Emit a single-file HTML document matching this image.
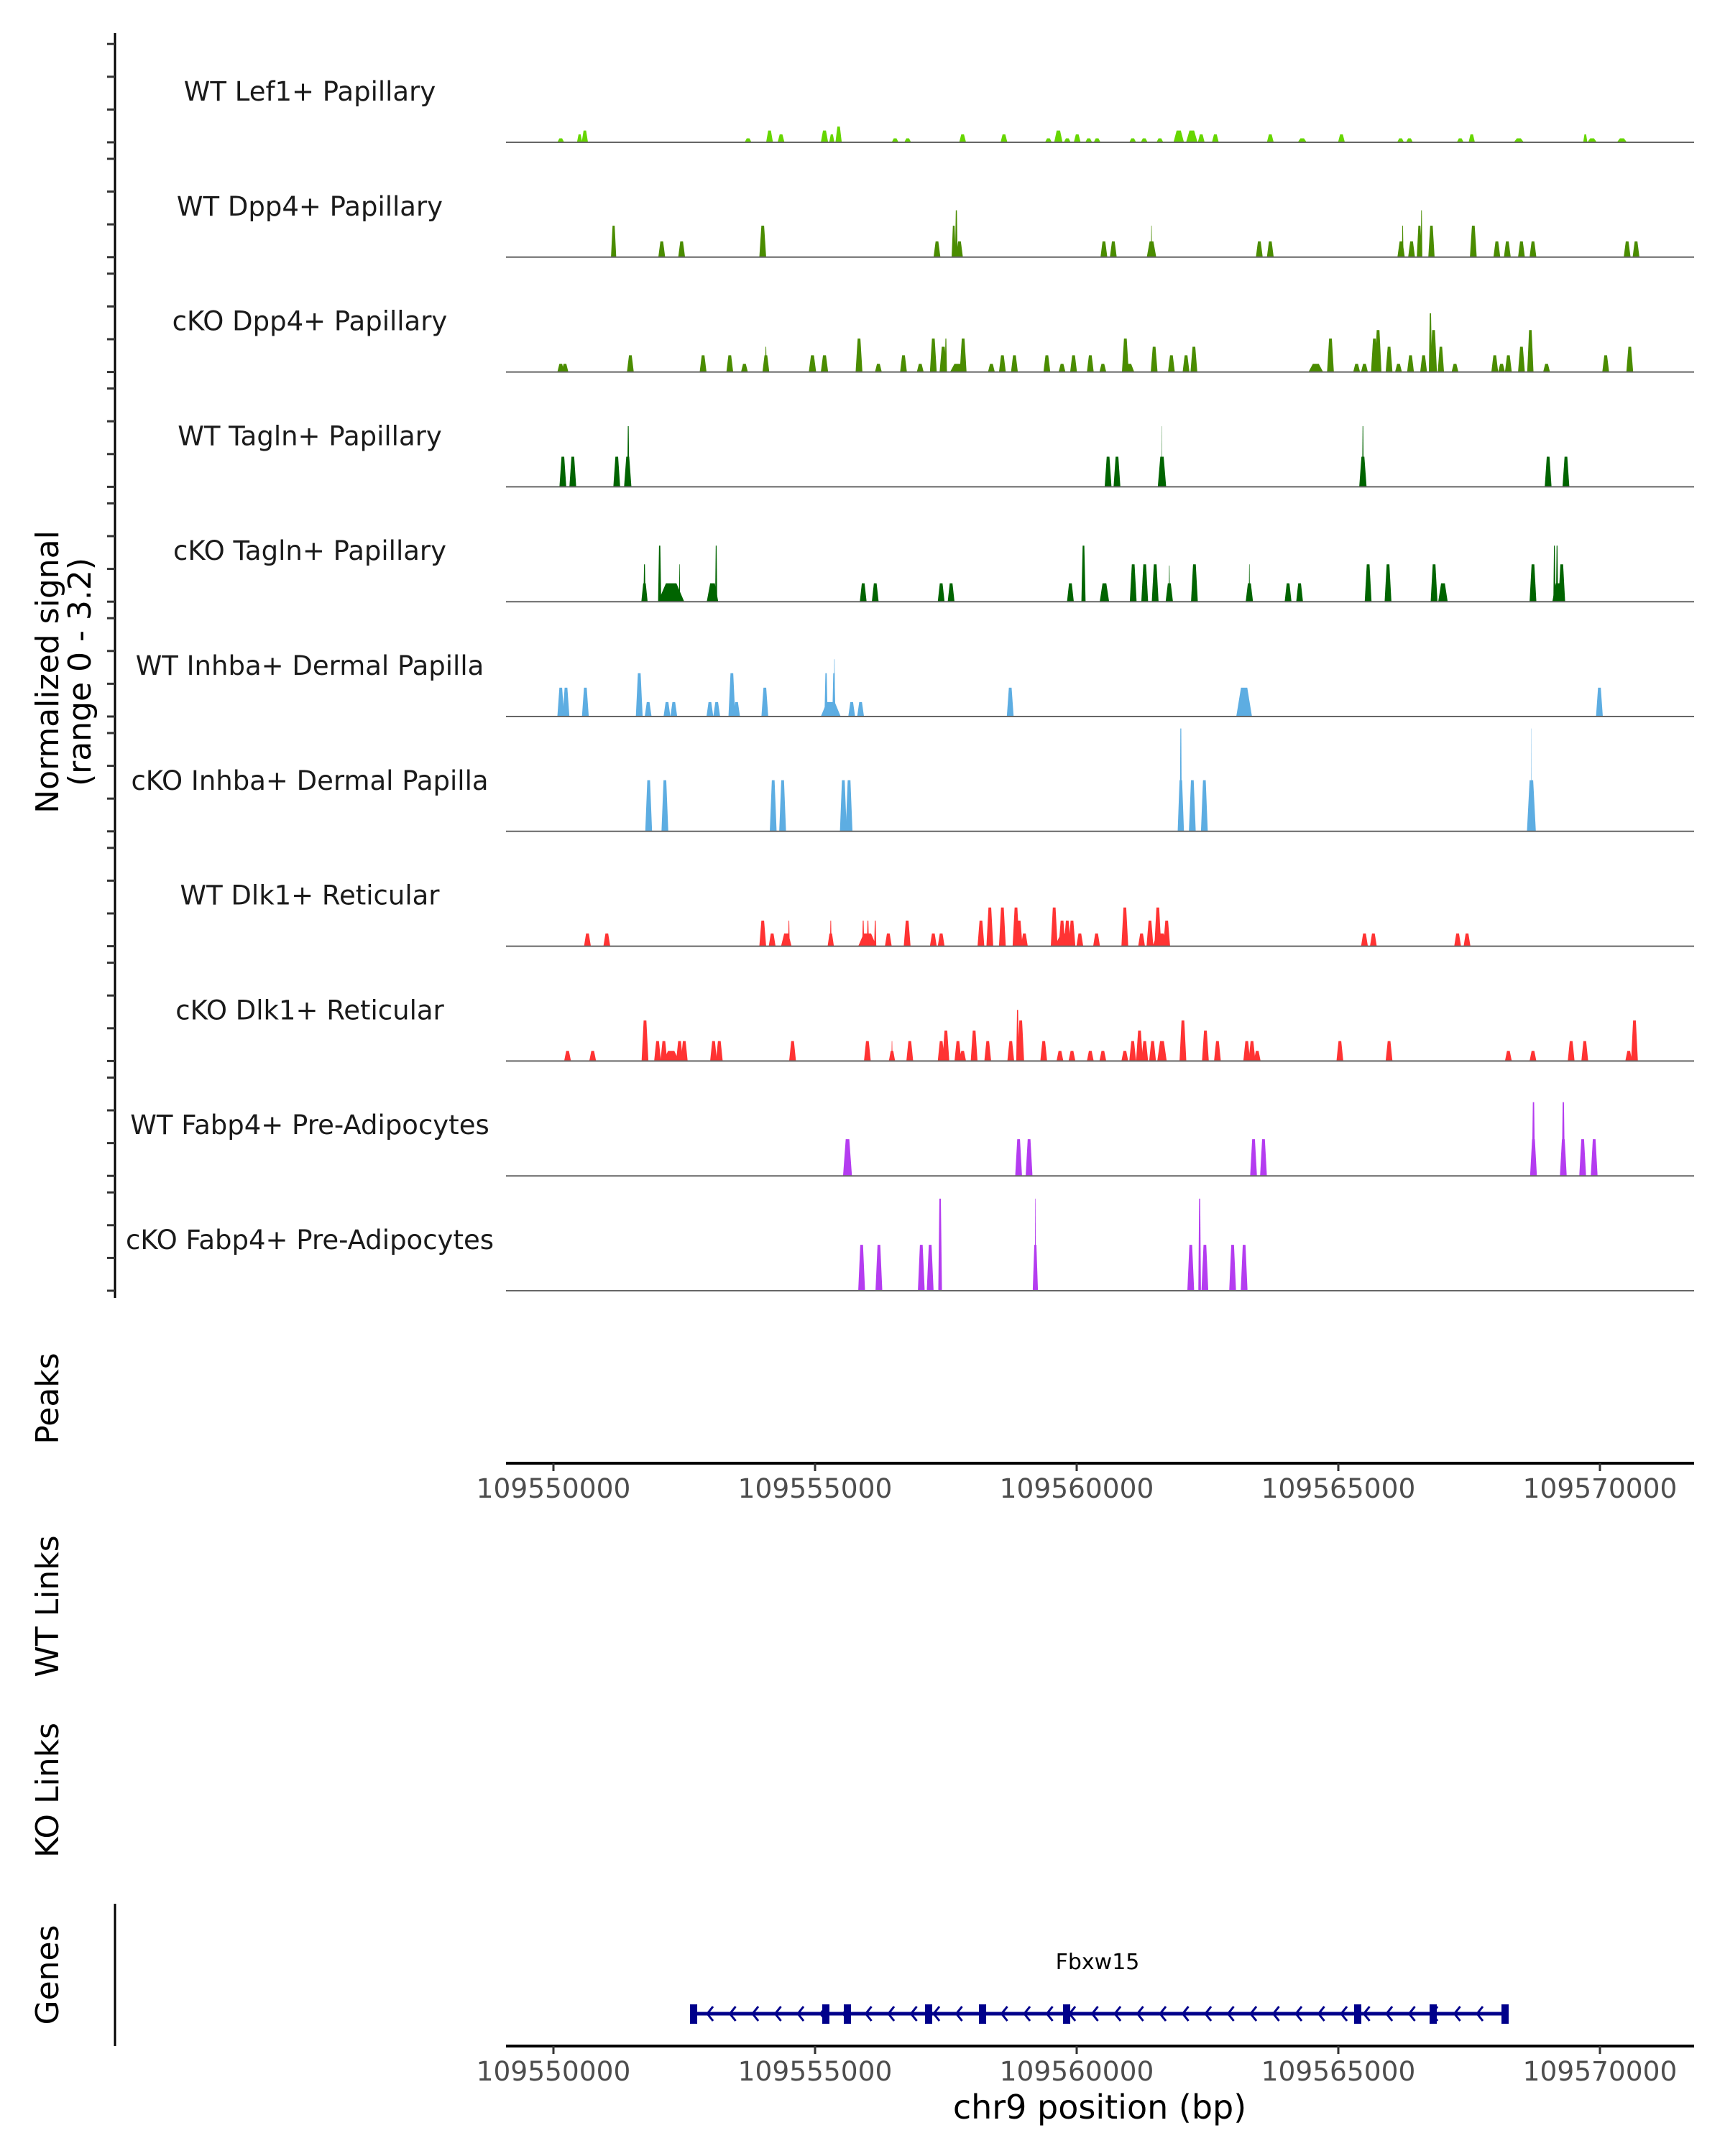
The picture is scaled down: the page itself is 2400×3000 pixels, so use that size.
<!DOCTYPE html>
<html><head><meta charset="utf-8">
<style>
html,body{margin:0;padding:0;background:#fff;}
svg{display:block;font-family:"DejaVu Sans","Liberation Sans",sans-serif;}
</style></head>
<body>
<svg id="chart" width="2400" height="3000" viewBox="0 0 2400 3000" xmlns="http://www.w3.org/2000/svg">
  <rect x="0" y="0" width="2400" height="3000" fill="#fff"/>
  <g id="tracks"></g>
  <line x1="160" y1="46" x2="160" y2="1806" stroke="#000" stroke-width="3"/>
  <g id="yticks"></g>
  <text transform="translate(81,935) rotate(-90)" text-anchor="middle" font-size="44" fill="#000">Normalized signal</text>
  <text transform="translate(126,935) rotate(-90)" text-anchor="middle" font-size="44" fill="#000">(range 0 - 3.2)</text>
  <text transform="translate(81,1946) rotate(-90)" text-anchor="middle" font-size="44" fill="#000">Peaks</text>
  <text transform="translate(81,2235) rotate(-90)" text-anchor="middle" font-size="44" fill="#000">WT Links</text>
  <text transform="translate(81,2491) rotate(-90)" text-anchor="middle" font-size="44" fill="#000">KO Links</text>
  <text transform="translate(81,2748) rotate(-90)" text-anchor="middle" font-size="44" fill="#000">Genes</text>
  <line x1="160" y1="2649" x2="160" y2="2847" stroke="#000" stroke-width="3"/>
  <g id="xaxis1"></g>
  <g id="xaxis2"></g>
  <g id="gene"></g>
  <text x="1527" y="2740" text-anchor="middle" font-size="30" fill="#000">Fbxw15</text>
  <text x="1530" y="2948" text-anchor="middle" font-size="46" fill="#000">chr9 position (bp)</text>
</svg>
<script>
// ---- data (kb offsets from 109550000; [kb, value, widthKb]) ----
var regionStart = 109550000;
var xTicks = [109550000, 109555000, 109560000, 109565000, 109570000];
var trackNames = ["WT Lef1+ Papillary","WT Dpp4+ Papillary","cKO Dpp4+ Papillary","WT Tagln+ Papillary","cKO Tagln+ Papillary","WT Inhba+ Dermal Papilla","cKO Inhba+ Dermal Papilla","WT Dlk1+ Reticular","cKO Dlk1+ Reticular","WT Fabp4+ Pre-Adipocytes","cKO Fabp4+ Pre-Adipocytes"];
var trackColors = ["#66d600","#4a8c00","#4a8c00","#006400","#006400","#5dade2","#5dade2","#ff3333","#ff3333","#b43cf0","#b43cf0"];
var sigLef1WT = [[0.14,0.12],[0.5,0.24,0.1],[0.6,0.36,0.12],[3.72,0.12],[4.13,0.36],[4.35,0.24],[5.18,0.36,0.14],[5.32,0.24,0.1],[5.45,0.48,0.12],[6.53,0.12],[6.77,0.12],[7.82,0.24],[8.61,0.24],[9.46,0.12],[9.65,0.36,0.16],[9.82,0.12],[10.01,0.24],[10.23,0.12],[10.39,0.12],[11.07,0.12],[11.29,0.12],[11.59,0.12],[11.95,0.36,0.2],[12.2,0.36,0.22],[12.38,0.24],[12.65,0.24],[13.7,0.24],[14.31,0.12,0.17],[15.06,0.24],[16.19,0.12],[16.36,0.12],[17.33,0.12],[17.55,0.24,0.12],[18.45,0.12,0.19],[19.72,0.24,0.08],[19.85,0.12,0.18],[20.42,0.12,0.19]];
var sigDpp4WT = [[1.15,0.96,0.1],[2.07,0.48],[2.45,0.48],[4.0,0.96],[7.33,0.48],[7.65,0.96,0.08],[7.7,1.43,0.05],[7.76,0.48],[10.52,0.48],[10.7,0.48],[11.43,0.48,0.18],[11.43,0.96,0.02],[13.49,0.48],[13.7,0.48],[16.2,0.48,0.14],[16.23,0.96,0.03],[16.4,0.48],[16.55,0.96,0.1],[16.59,1.43,0.03],[16.78,0.96,0.12],[17.58,0.96],[18.03,0.48],[18.23,0.48],[18.5,0.48],[18.72,0.48],[20.52,0.48],[20.69,0.48]];
var sigDpp4KO = [[0.14,0.25],[0.22,0.25],[1.47,0.51],[2.86,0.51],[3.37,0.51],[3.65,0.25],[4.06,0.51],[4.06,0.77,0.03],[4.95,0.51,0.14],[5.18,0.51,0.14],[5.84,1.02],[6.21,0.25],[6.69,0.51],[7.01,0.25],[7.26,1.02],[7.45,0.77,0.14],[7.5,1.02,0.04],[7.72,0.25,0.28],[7.83,1.02],[8.37,0.25],[8.58,0.51],[8.81,0.51],[9.43,0.51],[9.72,0.25],[9.94,0.51],[10.26,0.51],[10.5,0.25],[10.93,1.02],[11.0,0.25,0.2],[11.48,0.77],[11.81,0.51],[12.09,0.51],[12.24,0.77],[14.57,0.25,0.28],[14.85,1.02],[15.35,0.25],[15.5,0.25],[15.69,1.02],[15.76,1.28],[15.97,0.77],[16.15,0.25],[16.38,0.51],[16.63,0.51],[16.76,1.79,0.06],[16.82,1.28],[16.96,0.77,0.12],[17.23,0.25],[17.99,0.51],[18.12,0.25],[18.25,0.51],[18.5,0.77],[18.67,1.28,0.12],[18.98,0.25],[20.11,0.51],[20.57,0.77]];
var sigTaglnWT = [[0.18,0.92],[0.37,0.92],[1.21,0.92],[1.42,0.92,0.14],[1.43,1.85,0.04],[10.6,0.92],[10.77,0.92],[11.63,0.92,0.16],[11.63,1.85,0.01],[15.47,0.92,0.14],[15.47,1.85,0.03],[19.01,0.92],[19.35,0.92]];
var sigTaglnKO = [[1.74,0.56,0.12],[1.74,1.14,0.04],[2.25,0.56,0.5],[2.03,1.71,0.06],[2.41,1.14,0.02],[3.04,0.56,0.22],[3.11,1.71,0.04],[5.92,0.56],[6.15,0.56],[7.41,0.56],[7.6,0.56],[9.88,0.56],[10.13,1.71,0.08],[10.53,0.56,0.18],[11.08,1.14],[11.3,1.14],[11.5,1.14],[11.77,0.56,0.14],[11.77,1.1,0.02],[12.25,1.14],[13.3,0.56,0.14],[13.3,1.14,0.02],[14.04,0.56],[14.26,0.56],[15.57,1.14],[15.95,1.14],[16.83,1.14],[17.0,0.56,0.18],[18.72,1.14],[19.13,1.71,0.04],[19.18,1.71,0.04],[19.2,0.56,0.22],[19.27,1.14]];
var sigInhbaWT = [[0.14,0.88],[0.24,0.88],[0.61,0.88],[1.64,1.32],[1.81,0.44],[2.17,0.44],[2.3,0.44],[2.99,0.44],[3.12,0.44],[3.41,1.32],[3.5,0.44],[4.04,0.88],[5.3,0.44,0.38],[5.21,1.32,0.06],[5.36,1.32,0.06],[5.37,1.75,0.02],[5.7,0.44],[5.87,0.44],[8.73,0.88],[13.2,0.88,0.3],[19.99,0.88]];
var sigInhbaKO = [[1.82,1.56],[2.13,1.56],[4.2,1.56],[4.38,1.56],[5.54,1.56],[5.65,1.56],[11.99,1.56,0.12],[11.99,3.14,0.04],[12.21,1.56],[12.44,1.56],[18.69,1.56,0.17],[18.69,3.14,0.01]];
var sigDlk1WT = [[0.65,0.39],[1.02,0.39],[4.0,0.78],[4.18,0.39],[4.45,0.39,0.2],[4.5,0.78,0.03],[5.3,0.39,0.12],[5.3,0.78,0.03],[6.0,0.39,0.35],[5.92,0.78,0.04],[6.01,0.78,0.04],[6.15,0.78,0.04],[6.4,0.39],[6.76,0.78],[7.26,0.39],[7.41,0.39],[8.17,0.78],[8.34,1.18],[8.58,1.18],[8.84,1.18],[8.9,0.78],[9.0,0.39],[9.57,1.18],[9.78,0.39,0.4],[9.72,0.78],[9.82,0.78],[9.91,0.78],[10.06,0.39],[10.38,0.39],[10.92,1.18],[11.24,0.39],[11.4,0.78],[11.55,1.18],[11.72,0.78],[11.6,0.39,0.3],[15.5,0.39],[15.67,0.39],[17.28,0.39],[17.46,0.39]];
var sigDlk1KO = [[0.27,0.31],[0.75,0.31],[1.75,1.24],[1.99,0.61],[2.11,0.61],[2.25,0.31,0.3],[2.41,0.61],[2.5,0.61],[3.06,0.61],[3.17,0.61],[4.57,0.61],[6.0,0.61],[6.47,0.31,0.12],[6.47,0.61,0.02],[6.81,0.61],[7.41,0.61],[7.5,0.93],[7.73,0.61],[7.82,0.31],[8.04,0.93],[8.3,0.61],[8.74,0.61],[8.87,1.56,0.05],[8.93,1.24],[9.37,0.61],[9.68,0.31],[9.91,0.31],[10.26,0.31],[10.5,0.31],[10.92,0.31],[11.07,0.61],[11.2,0.93],[11.3,0.61],[11.45,0.61],[11.63,0.61,0.18],[12.03,1.24],[12.46,0.93],[12.69,0.61],[13.25,0.61],[13.35,0.61],[13.45,0.31],[15.03,0.61],[15.97,0.61],[18.25,0.31],[18.72,0.31],[19.45,0.61],[19.71,0.61],[20.55,0.31],[20.66,1.24]];
var sigFabp4WT = [[5.62,1.12,0.17],[8.89,1.12],[9.09,1.12],[13.38,1.12],[13.57,1.12],[18.73,2.25,0.06],[18.73,1.12],[19.3,2.25,0.06],[19.3,1.12],[19.67,1.12],[19.89,1.12]];
var sigFabp4KO = [[5.89,1.4],[6.22,1.4],[7.03,1.4],[7.2,1.4],[7.39,2.81,0.07],[9.21,1.4,0.1],[9.21,2.81,0.02],[12.18,1.4],[12.35,2.81,0.05],[12.45,1.4],[12.98,1.4],[13.2,1.4]];
var trackSignals = [sigLef1WT,sigDpp4WT,sigDpp4KO,sigTaglnWT,sigTaglnKO,sigInhbaWT,sigInhbaKO,sigDlk1WT,sigDlk1KO,sigFabp4WT,sigFabp4KO];
var yTickValues = [0,1,2,3];
var geneStart = 109552679, geneEnd = 109568187;
var geneExons = [109552679,109555206,109555618,109557170,109558201,109559808,109565371,109566813,109568187];

// ---- scales ----
var NS = "http://www.w3.org/2000/svg";
var PX_PER_BP = 0.0728, X0 = 770;
function xScale(bp){ return X0 + (bp - regionStart) * PX_PER_BP; }
function xKb(kb){ return xScale(regionStart + kb*1000); }
var firstBase = 198, pitch = 159.8, unitPx = 45.6;
function trackBase(i){ return firstBase + i*pitch; }
function yScale(i, v){ return trackBase(i) - v*unitPx; }
function mk(tag, attrs, parent){
  var e = document.createElementNS(NS, tag);
  for (var k in attrs) e.setAttribute(k, attrs[k]);
  parent.appendChild(e); return e;
}

var tracksG = document.getElementById('tracks');
var ytG = document.getElementById('yticks');
trackNames.forEach(function(name, i){
  var g = mk('g', {}, tracksG);
  
  
  var lbl = mk('text', {x:431, y:trackBase(i)-58, 'text-anchor':'middle', 'font-size':37, fill:'#1a1a1a'}, g);
  lbl.textContent = name;
  
  
  trackSignals[i].forEach(function(p){
    var w = (p[2] || 0.13);
    var x0 = xKb(p[0]-w/2), x1 = xKb(p[0]+w/2);
    var yt = yScale(i, p[1]), yb = trackBase(i);
    var inset = (x1-x0)*0.3;
    var poly = mk('polygon', {points: x0+','+yb+' '+(x0+inset)+','+yt+' '+(x1-inset)+','+yt+' '+x1+','+yb, fill:trackColors[i]}, g);
    
    
  });
  var base = mk('line', {x1:704, x2:2357, y1:trackBase(i), y2:trackBase(i), stroke:'#666', 'stroke-width':2}, g);
  
  
  yTickValues.forEach(function(v){
    var t = mk('line', {x1:149, x2:160, y1:yScale(i,v), y2:yScale(i,v), stroke:'#333', 'stroke-width':3}, ytG);
    
    
  });
});

function drawAxis(id, y){
  var g = document.getElementById(id);
  var l = mk('line', {x1:704, x2:2357, y1:y, y2:y, stroke:'#000', 'stroke-width':4}, g);
  
  
  xTicks.forEach(function(t){
    var x = xScale(t);
    var tk = mk('line', {x1:x, x2:x, y1:y, y2:y+11, stroke:'#333', 'stroke-width':3}, g);
    
    
    var tx = mk('text', {x:x, y:y+48, 'text-anchor':'middle', 'font-size':37.5, fill:'#4d4d4d'}, g);
    tx.textContent = String(t);
    
    
  });
}
drawAxis('xaxis1', 2036);
drawAxis('xaxis2', 2847);

var geneG = document.getElementById('gene');
var gy = 2802, gColor = '#00008b';
var gl = mk('line', {x1:xScale(geneStart), x2:xScale(geneEnd), y1:gy, y2:gy, stroke:gColor, 'stroke-width':5}, geneG);


for (var cx = xScale(geneStart)+22; cx < xScale(geneEnd)-8; cx += 31.5){
  var ch = mk('polyline', {points:(cx+5)+','+(gy-10)+' '+(cx-3)+','+gy+' '+(cx+5)+','+(gy+10), fill:'none', stroke:gColor, 'stroke-width':3}, geneG);
  
  
}
geneExons.forEach(function(e){
  var x = xScale(e);
  var r = mk('rect', {x:x-5, y:gy-13, width:10, height:27, fill:gColor}, geneG);
  
  
});
</script>
</body></html>
